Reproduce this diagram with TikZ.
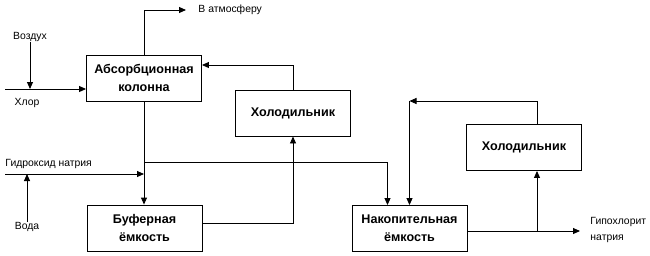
\documentclass[tikz,border=0pt]{standalone}
\usepackage{fontspec}
\setmainfont{Liberation Sans}
\usetikzlibrary{arrows.meta}

\begin{document}
\begin{tikzpicture}[x=1pt, y={(0pt,-1pt)}, line width=0.9pt,
    >={Triangle[length=7pt,width=6pt]},
    unit/.style={draw, line width=0.9pt, minimum width=115pt, minimum height=46pt,
      align=center, font=\fontsize{12.6}{18}\selectfont\bfseries},
    lab/.style={font=\fontsize{10.4}{16}\selectfont, inner sep=0pt}]
  \useasboundingbox (0,0) rectangle (650,255);
  % apparatus
  \node[unit] (absorb) at (144,78) {Абсорбционная\\колонна};
  \node[unit] (cool1) at (293,113) {Холодильник};
  \node[unit] (buffer) at (144.5,228) {Буферная\\ёмкость};
  \node[unit] (store) at (409.5,228.5) {Накопительная\\ёмкость};
  \node[unit] (cool2) at (524,147.5) {Холодильник};
  % streams
  \node[lab] (air) at (30,37) {Воздух};
  \node[lab] (chlor) at (27,103) {Хлор};
  \node[lab, anchor=west] (naoh) at (5,164) {Гидроксид натрия};
  \node[lab] (water) at (27,227) {Вода};
  \node[lab, anchor=west] (vent) at (198,10) {В атмосферу};
  \node[lab, anchor=west, align=left] (hypo) at (590,230) {Гипохлорит\\натрия};
  \coordinate (chlor-in) at (5,89);
  \coordinate (naoh-in) at (5,174);
  \coordinate (split) at (144,162);
  \coordinate (tee) at (537,231);
  \coordinate (loop) at (409.5,101);
  % connections
  \draw[->] (chlor-in) -- (absorb.west |- chlor-in);
  \draw[->] (air.south) -- (air.south |- chlor-in);
  \draw[->] (absorb.north) |- ([xshift=-12pt]vent.west);
  \draw[->] (cool1.north) |- ([yshift=13pt]absorb.east);
  \draw[->] (absorb.south) -- (absorb.south |- buffer.north);
  \draw[->] (naoh-in) -- (absorb.south |- naoh-in);
  \draw[->] (water.north) -- (water.north |- naoh-in);
  \draw[->] (split) -| ([xshift=-22pt]store.north);
  \draw[->] ([yshift=5pt]buffer.east) -| (cool1.south);
  \draw[->] ([yshift=-2.5pt]store.east) -- ([xshift=-10pt]hypo.west |- tee);
  \draw[->] (tee) -- (tee |- cool2.south);
  \draw[->] (tee |- cool2.north) |- (loop);
  \draw[->] (loop) -- (store.north);
\end{tikzpicture}
\end{document}
